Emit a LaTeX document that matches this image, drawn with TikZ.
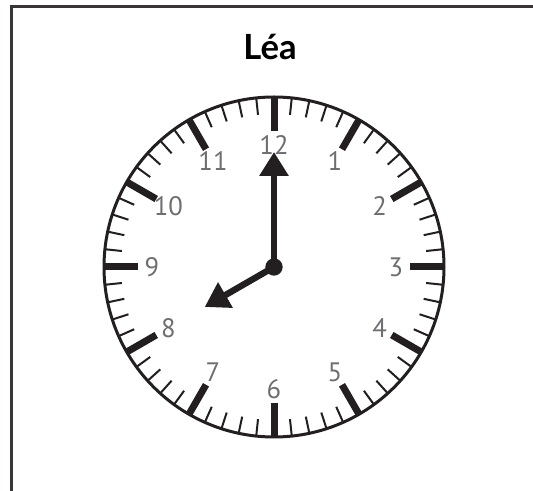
\documentclass[tikz,border=0pt]{standalone}
\usepackage{fontspec}
\setmainfont{PT Sans}
\newfontfamily\titlefont{Lato}
\usetikzlibrary{arrows.meta}
\definecolor{ink}{HTML}{231F20}
\definecolor{numgray}{HTML}{6D6E71}

\begin{document}
\begin{tikzpicture}[x=0.75pt,y=-0.75pt,
    hub/.style={circle,fill=ink,minimum size=13pt,inner sep=0pt},
    hand/.style={ink,line width=4.8pt,-{Triangle[width=21pt,length=18pt]}},
    num/.style={text=numgray,font=\fontsize{20}{20}\selectfont}]
\useasboundingbox (0,0) rectangle (533,491);
\draw[ink!90,line width=2.25pt] (11,491) -- (11,7) -- (533,7);
\node[font=\titlefont\bfseries\fontsize{26}{26}\selectfont,anchor=base] (name) at (270,60) {Léa};
\node[hub] (c) at (274,267) {};
\draw[ink,line width=2.25pt] (c.center) circle (170);
% minute and hour ticks
\foreach \i in {0,...,59}
  \draw[ink,line width=1.5pt] (c.center) ++(6*\i:153) -- ++(6*\i:17);
\foreach \k in {1,...,12}
  \draw[ink,line width=5.25pt] (c.center) ++(30*\k:136) -- ++(30*\k:34);
\foreach \k in {1,...,12}
  \path (c.center) ++(30*\k-90:122) node[num] (n\k) {\k};
% hands
\coordinate (h) at (204.7,307);
\coordinate (m) at (274,152);
\draw[hand] (c.center) -- (h);
\draw[hand] (c.center) -- (m);
\end{tikzpicture}
\end{document}
